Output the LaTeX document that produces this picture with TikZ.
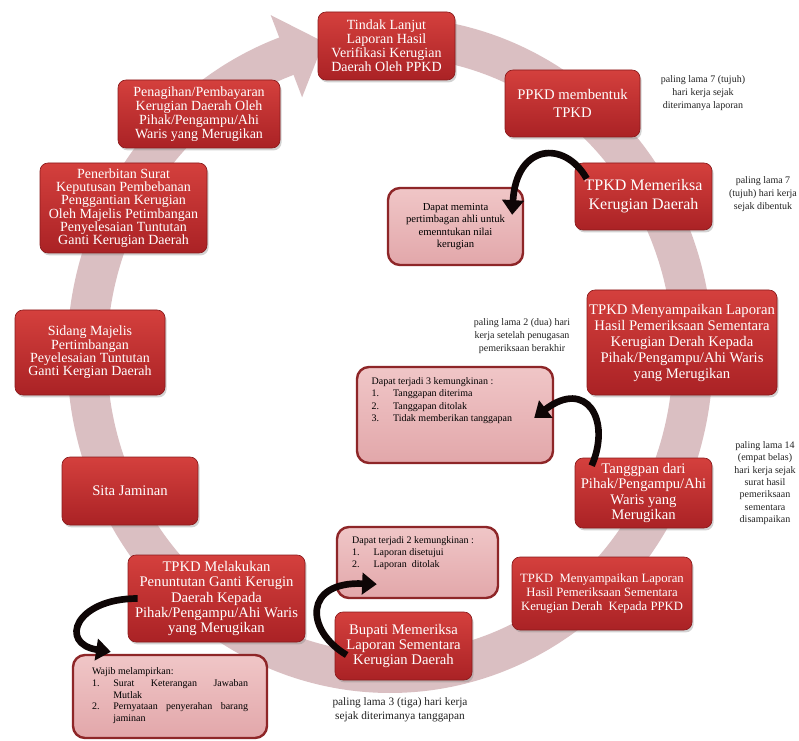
\documentclass[tikz,border=0pt]{standalone}
\usepackage{fontspec}
\setmainfont{Liberation Serif}
\usetikzlibrary{shadows,arrows.meta,calc}
\definecolor{rtop}{HTML}{D4403D}
\definecolor{rbot}{HTML}{AA2225}
\definecolor{rdraw}{HTML}{8A1A1C}
\definecolor{ptop}{HTML}{F0C6C7}
\definecolor{pbot}{HTML}{E2A7AA}
\definecolor{pdraw}{HTML}{8E2628}
\definecolor{ringc}{HTML}{DABFC2}
\definecolor{notec}{HTML}{222222}
\definecolor{curlc}{HTML}{0E0606}
\begin{document}
\begin{tikzpicture}[x=0.75pt,y=-0.75pt,
  redbox/.style={draw=rdraw, line width=0.5pt, rounded corners=6pt, top color=rtop, bottom color=rbot, text=white, align=center, inner sep=1pt, drop shadow={shadow xshift=1.2pt, shadow yshift=-1.8pt, opacity=0.35}},
  pinkbox/.style={draw=pdraw, line width=1.8pt, rounded corners=9pt, top color=ptop, bottom color=pbot, text=black, inner sep=0pt, align=center},
  note/.style={align=center, text=notec, font=\fontsize{7.5}{10}\selectfont},
  curl/.style={line width=5pt, curlc, -{Triangle[width=16pt,length=11pt]}},
  wh/.style 2 args={minimum width=#1*0.75pt, minimum height=#2*0.75pt},
]
\fill[white] (0,0) rectangle (799,741);
\useasboundingbox (0,0) rectangle (799,741);

% big circular arrow
\draw[ringc, line width=30pt] plot[domain=-86:250.3, samples=150, smooth] ({390+303*cos(\x)},{355+318*sin(\x)});
\fill[ringc] (270.7,15.1) -- (323.8,42.0) -- (302.1,97.3) -- cycle;

% red boxes
\node[redbox, wh={137}{68}, font=\fontsize{10.5}{10.5}\selectfont] (tindak) at (386.5,46) {Tindak Lanjut\\Laporan Hasil\\Verifikasi Kerugian\\Daerah Oleh PPKD};
\node[redbox, wh={135}{67}, font=\fontsize{11}{13}\selectfont] (ppkd) at (572.5,103.5) {PPKD membentuk\\TPKD};
\node[redbox, wh={137}{67}, font=\fontsize{12}{14.5}\selectfont] (memeriksa) at (643.5,196.5) {TPKD Memeriksa\\Kerugian Daerah};
\node[redbox, wh={162}{68}, font=\fontsize{10.5}{10.5}\selectfont] (penagihan) at (199,114) {Penagihan/Pembayaran\\Kerugian Daerah Oleh\\Pihak/Pengampu/Ahi\\Waris yang Merugikan};
\node[redbox, wh={167}{90}, font=\fontsize{10.5}{10}\selectfont] (penerbitan) at (123.5,208) {Penerbitan Surat\\Keputusan Pembebanan\\Penggantian Kerugian\\Oleh Majelis Petimbangan\\Penyelesaian Tuntutan\\Ganti Kerugian Daerah};
\node[redbox, wh={190}{105}, font=\fontsize{11}{12}\selectfont] (pihak) at (682,342.5) {TPKD Menyampaikan Laporan\\Hasil Pemeriksaan Sementara\\Kerugian Derah Kepada\\Pihak/Pengampu/Ahi Waris\\yang Merugikan};
\node[redbox, wh={150}{85}, font=\fontsize{10.5}{10}\selectfont] (sidang) at (90,352.5) {Sidang Majelis\\Pertimbangan\\Peyelesaian Tuntutan\\Ganti Kergian Daerah};
\node[redbox, wh={136}{68}, font=\fontsize{11}{12}\selectfont] (sita) at (130,491) {Sita Jaminan};
\node[redbox, wh={137}{70}, font=\fontsize{11}{11.5}\selectfont] (tanggpan) at (643.5,493) {Tanggpan dari\\Pihak/Pengampu/Ahi\\Waris yang\\Merugikan};
\node[redbox, wh={180}{73}, font=\fontsize{9.5}{10.5}\selectfont] (keppkd) at (602,593.5) {TPKD\ \ Menyampaikan Laporan\\Hasil Pemeriksaan Sementara\\Kerugian Derah\ \ Kepada PPKD};
\node[redbox, wh={177}{87}, font=\fontsize{11}{11.4}\selectfont] (melakukan) at (216.5,598.5) {TPKD Melakukan\\Penuntutan Ganti Kerugin\\Daerah Kepada\\Pihak/Pengampu/Ahi Waris\\yang Merugikan};
\node[redbox, wh={137}{68}, font=\fontsize{11}{11.5}\selectfont] (bupati) at (403.5,646) {Bupati Memeriksa\\Laporan Sementara\\Kerugian Daerah};

% pink boxes
\node[pinkbox, wh={135}{77}, font=\fontsize{8}{9.4}\selectfont] (meminta) at (455.5,226.5) {Dapat meminta\\pertimbagan ahli untuk\\emenntukan nilai\\kerugian};
\node[pinkbox, wh={196}{96}, font=\fontsize{7.5}{9.2}\selectfont] (tiga) at (455,415) {\parbox[c][56pt][t]{125pt}{\raggedright Dapat terjadi 3 kemungkinan :\\
\makebox[16pt][l]{1.}Tanggapan diterima\\
\makebox[16pt][l]{2.}Tanggapan ditolak\\
\makebox[16pt][l]{3.}Tidak memberikan tanggapan}};
\node[pinkbox, wh={161}{71}, font=\fontsize{7.5}{9.2}\selectfont] (dua) at (417.5,562.5) {\parbox[c][39pt][t]{98pt}{\raggedright Dapat terjadi 2 kemungkinan :\\
\makebox[16pt][l]{1.}Laporan disetujui\\
\makebox[16pt][l]{2.}Laporan\ \ ditolak}};
\node[pinkbox, wh={194}{83}, font=\fontsize{7.5}{9.2}\selectfont] (wajib) at (170,696.5) {\parbox[c][48pt][t]{117pt}{\raggedright\vspace*{2pt}Wajib melampirkan:\\
\makebox[16pt][l]{1.}\parbox[t]{101pt}{Surat\hfill Keterangan\hfill Jawaban\\Mutlak}\\[1.5pt]
\makebox[16pt][l]{2.}\parbox[t]{101pt}{Pernyataan\hfill penyerahan\hfill barang\\jaminan}}};

% notes
\node[note] (n1) at (703,93) {paling lama 7 (tujuh)\\hari kerja sejak\\diterimanya laporan};
\node[note] (n2) at (763,194) {paling lama 7\\(tujuh) hari kerja\\sejak dibentuk};
\node[note] (n3) at (522,336) {paling lama 2 (dua) hari\\kerja setelah penugasan\\pemeriksaan berakhir};
\node[note, font=\fontsize{7.5}{9.3}\selectfont] (n4) at (765,483) {paling lama 14\\(empat belas)\\hari kerja sejak\\surat hasil\\pemeriksaan\\sementara\\disampaikan};
\node[note, font=\fontsize{8.5}{10.5}\selectfont] (n5) at (400,710) {paling lama 3 (tiga) hari kerja\\sejak diterimanya tanggapan};

% black curved arrows
\draw[curl] ($(memeriksa.north west)+(12,16)$) .. controls +(-22,-39) and +(4,-71) .. ($(meminta.north east)+(-12,28)$);
\draw[curl] ($(tanggpan.north west)+(17,8)$) .. controls +(20,-46) and +(52,-40) .. ($(tiga.east)+(-20,3)$);
\draw[curl] ($(bupati.west)+(12,9)$) .. controls +(-42,-25) and +(-73,-3) .. ($(dua.south west)+(41,-15)$);
\draw[curl] ($(melakukan.west)+(10,0)$) .. controls +(-63,0) and +(-52,-8) .. ($(wajib.north west)+(39,-2)$);
\end{tikzpicture}
\end{document}
